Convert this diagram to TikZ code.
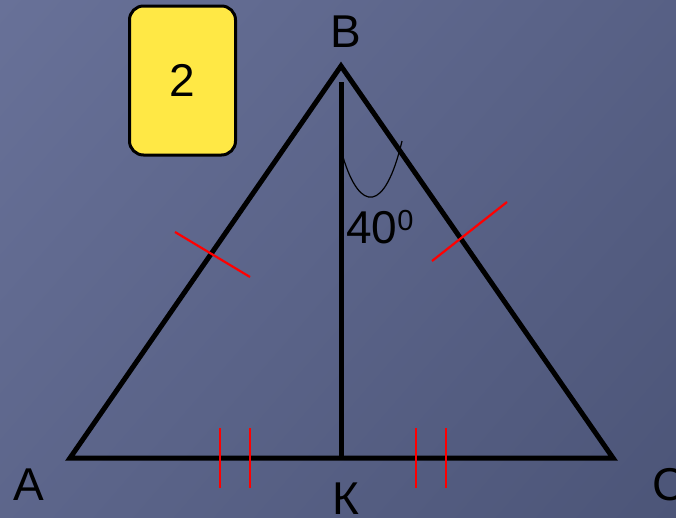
\documentclass[tikz,border=0pt]{standalone}
\usepackage{fontspec}
\setmainfont{Liberation Sans}
\usetikzlibrary{shadings}
\definecolor{bgleft}{RGB}{104,113,152}
\definecolor{bgright}{RGB}{76,85,120}
\definecolor{cardyellow}{RGB}{255,232,69}
\begin{document}
\begin{tikzpicture}[x=1pt,y=-1pt,
  side/.style={line width=5pt, line join=miter, line cap=rect},
  tick/.style={red, line width=2.2pt},
  lbl/.style={inner sep=0pt, font=\fontsize{46}{50}\selectfont},
  card/.style={draw=black, line width=3pt, fill=cardyellow, rounded corners=14pt,
    minimum width=106pt, minimum height=149pt, inner sep=0pt, font=\fontsize{46}{50}\selectfont}]
\shade[upper left=bgleft, lower right=bgright, upper right=bgright!60!bgleft, lower left=bgleft!60!bgright] (0,0) rectangle (676,517);
\useasboundingbox (0,0) rectangle (676,517);
% vertices
\coordinate (A) at (70,458);
\coordinate (B) at (341,66);
\coordinate (C) at (613,458);
\coordinate (K) at (341,458);
\coordinate (H) at (341,82);
% triangle and altitude
\draw[side] (A) -- (B) -- (C) -- cycle;
\draw[line width=5pt] (H) -- (K);
% tick marks
\coordinate (t1a) at (175,232); \coordinate (t1b) at (250,277);
\coordinate (t2a) at (432,261); \coordinate (t2b) at (507,202);
\draw[tick] (t1a) -- (t1b);
\draw[tick] (t2a) -- (t2b);
\foreach \xx [count=\i] in {220,250,416,446}{
  \coordinate (d\i a) at (\xx,428); \coordinate (d\i b) at (\xx,488);
  \draw[tick] (d\i a) -- (d\i b);
}
% angle arc
\coordinate (arcS) at (343,157);
\coordinate (arcE) at (402,141);
\draw[line width=1.2pt] (arcS) .. controls (360,213) and (385,213) .. (arcE);
% labels
\node[lbl] (lA) at (29,485) {A};
\node[lbl] (lB) at (346,32) {B};
\node[lbl] (lC) at (669,485) {C};
\node[lbl] (lK) at (346,499) {К};
\node[lbl, anchor=base west] (ang) at (346,243) {40\raisebox{13pt}{\fontsize{29}{30}\selectfont 0}};
% card
\node[card] (card) at (182.5,80.5) {2};
\end{tikzpicture}
\end{document}
